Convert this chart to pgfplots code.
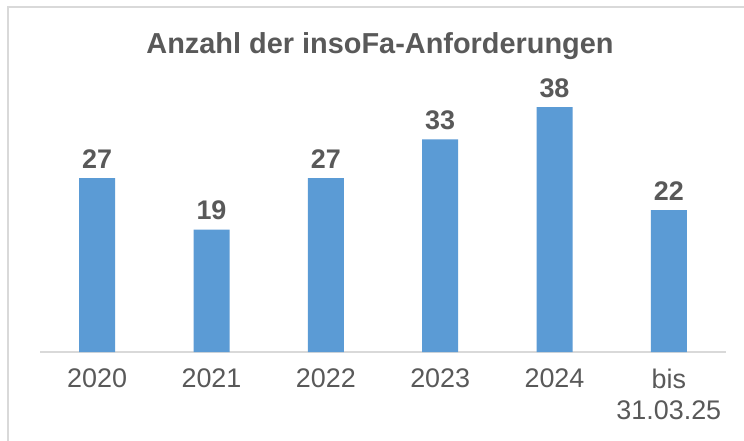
\documentclass[border=0pt]{standalone}
\usepackage{pgfplots}
\pgfplotsset{compat=1.18}
\usepackage{fontspec}
\setmainfont{Liberation Sans}
\definecolor{barblue}{HTML}{5B9BD5}
\definecolor{txtgray}{HTML}{595959}
\definecolor{axgray}{HTML}{D9D9D9}
\begin{document}
\begin{tikzpicture}
\path[use as bounding box] (0,0) rectangle (744bp,441bp);
\fill[white] (0,0) rectangle (744bp,441bp);
\draw[axgray, line width=2.5bp] (8bp,0) -- (8bp,434bp) -- (744bp,434bp);
\node[text=txtgray, font=\fontsize{29}{32}\selectfont\bfseries] at (380bp,395bp) {Anzahl der insoFa-Anforderungen};
\begin{axis}[
  /pgf/number format/assume math mode=true,
  at={(40bp,89bp)}, anchor=south west,
  scale only axis, width=686bp, height=290bp,
  xmin=-0.5, xmax=5.5, ymin=0, ymax=45,
  axis y line=none, axis x line*=bottom,
  x axis line style={draw=axgray, line width=1.5bp, -},
  xtick=data, major tick length=0,
  xticklabels={2020,2021,2022,2023,2024,{bis\\31.03.25}},
  xticklabel style={align=center, text=txtgray, font=\fontsize{27}{32}\selectfont, yshift=-13bp},
  ytick=\empty,
  ybar, bar width=36bp, bar shift=0pt,
  nodes near coords,
  nodes near coords style={text=txtgray, font=\fontsize{27}{30}\selectfont\bfseries, anchor=south, yshift=6bp},
  clip=false,
]
\addplot[fill=barblue, draw=none] coordinates {(0,27) (1,19) (2,27) (3,33) (4,38) (5,22)};
\end{axis}
\end{tikzpicture}
\end{document}
